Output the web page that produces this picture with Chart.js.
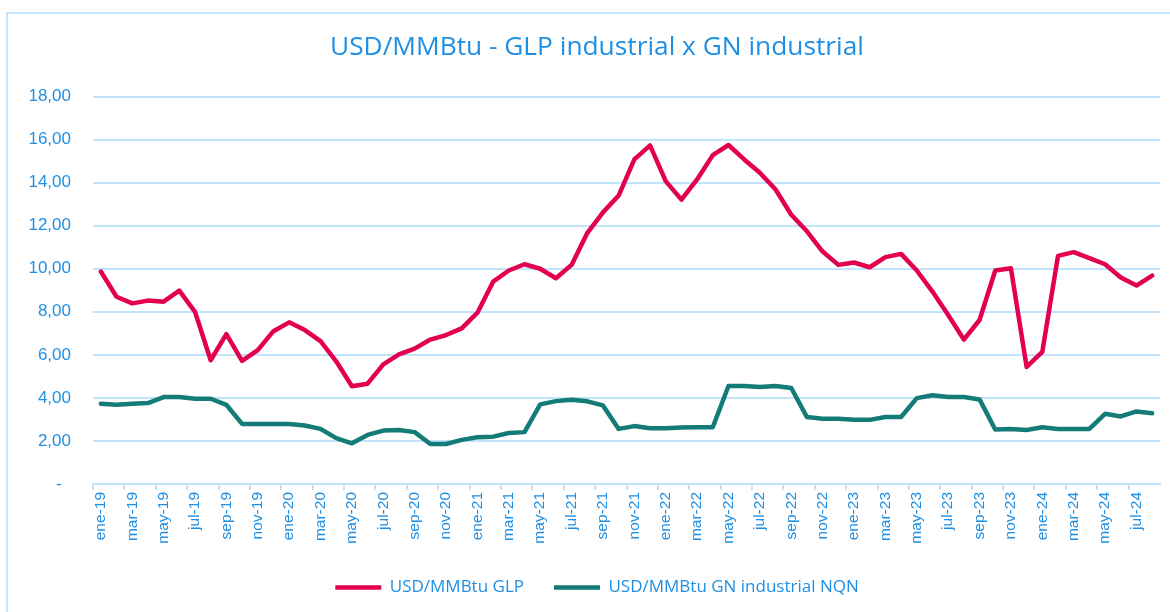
<!DOCTYPE html>
<html>
<head>
<meta charset="utf-8">
<script src="https://cdn.jsdelivr.net/npm/chart.js@4/dist/chart.umd.min.js"></script>
<style>
  html, body { margin: 0; padding: 0; background: #fff; overflow: hidden; }
  body { width: 1170px; height: 612px; position: relative; }
  .frame { position: absolute; left: 6px; top: 12px; width: 1190px; height: 640px; border: 2px solid #c4e5fb; box-sizing: border-box; }
  .wrap { position: absolute; left: 0; top: 0; width: 1200px; height: 612px; }
</style>
</head>
<body>
<div class="frame"></div>
<div class="wrap"><canvas id="priceChart"></canvas></div>
<script>
// Meses ene-19 .. ago-24
const months = [
  'ene-19','feb-19','mar-19','abr-19','may-19','jun-19','jul-19','ago-19','sep-19','oct-19','nov-19','dic-19',
  'ene-20','feb-20','mar-20','abr-20','may-20','jun-20','jul-20','ago-20','sep-20','oct-20','nov-20','dic-20',
  'ene-21','feb-21','mar-21','abr-21','may-21','jun-21','jul-21','ago-21','sep-21','oct-21','nov-21','dic-21',
  'ene-22','feb-22','mar-22','abr-22','may-22','jun-22','jul-22','ago-22','sep-22','oct-22','nov-22','dic-22',
  'ene-23','feb-23','mar-23','abr-23','may-23','jun-23','jul-23','ago-23','sep-23','oct-23','nov-23','dic-23',
  'ene-24','feb-24','mar-24','abr-24','may-24','jun-24','jul-24','ago-24'
];

// USD/MMBtu GLP
const glp = [
  9.87, 8.70, 8.39, 8.52, 8.47, 8.98, 8.00, 5.75, 6.96, 5.72, 6.22, 7.10,
  7.51, 7.15, 6.64, 5.70, 4.54, 4.66, 5.56, 6.02, 6.29, 6.71, 6.92, 7.23,
  7.96, 9.40, 9.92, 10.21, 10.00, 9.56, 10.18, 11.66, 12.62, 13.40, 15.08, 15.73,
  14.07, 13.21, 14.15, 15.28, 15.75, 15.08, 14.46, 13.68, 12.51, 11.74, 10.80, 10.18,
  10.29, 10.07, 10.54, 10.69, 9.92, 8.94, 7.85, 6.71, 7.62, 9.92, 10.02, 5.44,
  6.14, 10.60, 10.77, 10.49, 10.21, 9.59, 9.22, 9.68
];

// USD/MMBtu GN industrial NQN
const gnNqn = [
  3.73, 3.68, 3.73, 3.76, 4.04, 4.04, 3.96, 3.96, 3.68, 2.79, 2.79, 2.79,
  2.79, 2.72, 2.56, 2.13, 1.89, 2.28, 2.48, 2.51, 2.41, 1.86, 1.86, 2.05,
  2.17, 2.20, 2.37, 2.41, 3.70, 3.85, 3.91, 3.84, 3.65, 2.56, 2.69, 2.59,
  2.59, 2.62, 2.64, 2.64, 4.55, 4.55, 4.51, 4.55, 4.46, 3.11, 3.03, 3.03,
  2.98, 2.98, 3.11, 3.11, 3.99, 4.12, 4.04, 4.04, 3.93, 2.53, 2.56, 2.51,
  2.64, 2.56, 2.56, 2.56, 3.26, 3.14, 3.37, 3.29
];

const yTicks = [0, 2, 4, 6, 8, 10, 12, 14, 16, 18];

const TEXT_BLUE = '#1f8fe3';
const GRID_BLUE = '#c2e4fb';
const RED = '#e3004f';
const TEAL = '#137c78';

const fmt = v => v === 0 ? '-  ' : v.toFixed(2).replace('.', ',');

new Chart(document.getElementById('priceChart'), {
  type: 'line',
  data: {
    labels: months,
    datasets: [
      {
        label: 'USD/MMBtu GLP',
        data: glp,
        borderColor: RED,
        backgroundColor: RED,
        borderWidth: 4.5,
        borderCapStyle: 'round',
        borderJoinStyle: 'round',
        pointRadius: 0,
        pointStyle: 'line',
        tension: 0
      },
      {
        label: 'USD/MMBtu GN industrial NQN',
        data: gnNqn,
        borderColor: TEAL,
        backgroundColor: TEAL,
        borderWidth: 4.5,
        borderCapStyle: 'round',
        borderJoinStyle: 'round',
        pointRadius: 0,
        pointStyle: 'line',
        tension: 0
      }
    ]
  },
  options: {
    responsive: true,
    maintainAspectRatio: false,
    animation: false,
    layout: { padding: { left: 0, right: 6, top: 0, bottom: 6 } },
    plugins: {
      title: {
        display: true,
        text: 'USD/MMBtu - GLP industrial x GN industrial',
        color: TEXT_BLUE,
        font: { family: 'Open Sans', size: 26.3, weight: 'normal' },
        padding: { top: 32, bottom: 33 }
      },
      legend: {
        position: 'bottom',
        labels: {
          color: TEXT_BLUE,
          font: { family: 'Open Sans', size: 17 },
          usePointStyle: true,
          pointStyleWidth: 46,
          boxHeight: 4,
          padding: 30
        }
      },
      tooltip: { enabled: false }
    },
    scales: {
      x: {
        offset: true,
        grid: {
          offset: true,
          drawOnChartArea: false,
          drawTicks: true,
          tickLength: 6,
          lineWidth: 2,
          color: ctx => ctx.index % 2 === 0 ? GRID_BLUE : 'rgba(0,0,0,0)'
        },
        border: { display: true, color: GRID_BLUE, width: 2 },
        ticks: {
          autoSkip: false,
          minRotation: 90,
          maxRotation: 90,
          padding: 2,
          color: TEXT_BLUE,
          font: { family: 'Liberation Sans', size: 15.5 },
          callback: function (v, i) { return i % 2 === 0 ? this.getLabelForValue(v) : ''; }
        },
        afterFit: s => { s.height = 65; }
      },
      y: {
        min: 0,
        max: 18,
        afterBuildTicks: s => { s.ticks = yTicks.map(v => ({ value: v })); },
        grid: { color: GRID_BLUE, lineWidth: 2, drawTicks: false },
        border: { display: false },
        ticks: {
          padding: 22,
          color: TEXT_BLUE,
          font: { family: 'Liberation Sans', size: 17 },
          callback: v => fmt(v)
        },
        afterFit: s => { s.width = 93; }
      },
      // eje vacio a la derecha, solo para dejar margen
      yPad: {
        type: 'linear',
        position: 'right',
        min: 0,
        max: 18,
        grid: { drawOnChartArea: false, drawTicks: false },
        border: { display: false },
        ticks: { display: false },
        afterFit: s => { s.width = 34; }
      }
    }
  }
});
</script>
</body>
</html>
